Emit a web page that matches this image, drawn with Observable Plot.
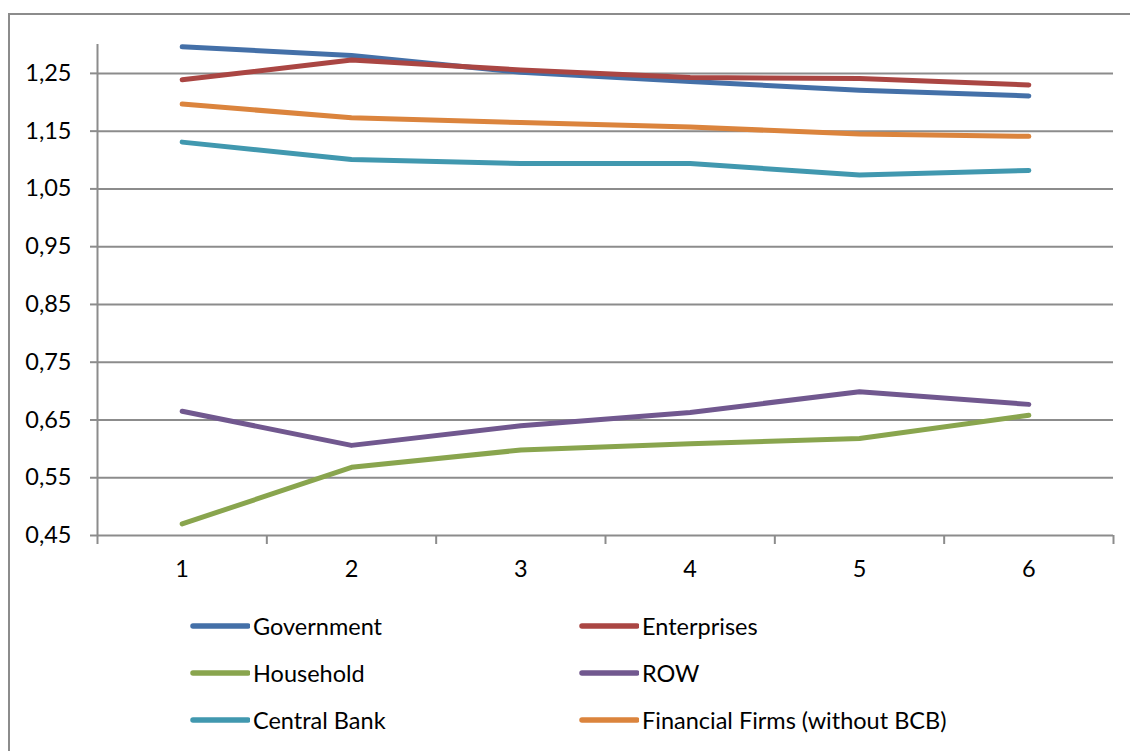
<!DOCTYPE html>
<html>
<head>
<meta charset="utf-8">
<script src="https://cdn.jsdelivr.net/npm/d3@7"></script>
<script src="https://cdn.jsdelivr.net/npm/@observablehq/plot@0.6"></script>
<style>
  html, body { margin: 0; padding: 0; background: #fff; }
  #frame { position: relative; width: 1130px; height: 751px; overflow: hidden; font-family: Lato, "Open Sans", sans-serif; }
  #border { position: absolute; left: 8px; top: 13px; width: 1300px; height: 900px; border: 2px solid #8c8c8c; box-sizing: border-box; }
  #chart { position: absolute; left: 0; top: 0; }
  .legend-item { position: absolute; display: flex; align-items: center; font-size: 23.5px; color: #000; white-space: nowrap; }
  .legend-item svg { margin-right: 3px; }
</style>
</head>
<body>
<div id="frame">
  <div id="border"></div>
  <div id="chart"></div>
</div>
<script>
// Periods on the horizontal axis
const periods = [1, 2, 3, 4, 5, 6];

// Series names, in drawing order
const seriesNames = ["Government", "Enterprises", "Household", "ROW", "Central Bank", "Financial Firms (without BCB)"];
const seriesColors = ["#4470a8", "#aa4643", "#89a54e", "#71588f", "#4198af", "#db843d"];

// Values per series
const government     = [1.296, 1.281, 1.252, 1.236, 1.221, 1.211];
const enterprises    = [1.239, 1.273, 1.256, 1.243, 1.241, 1.230];
const household      = [0.470, 0.568, 0.598, 0.609, 0.618, 0.658];
const row            = [0.665, 0.606, 0.640, 0.663, 0.699, 0.677];
const centralBank    = [1.131, 1.101, 1.094, 1.094, 1.074, 1.082];
const financialFirms = [1.197, 1.173, 1.165, 1.157, 1.145, 1.141];

// Y tick values
const yTicks = [0.45, 0.55, 0.65, 0.75, 0.85, 0.95, 1.05, 1.15, 1.25];

const seriesValues = [government, enterprises, household, row, centralBank, financialFirms];
const rows = seriesNames.flatMap((name, i) =>
  periods.map((p, j) => ({series: name, period: p, value: seriesValues[i][j]}))
);

// Category boundaries, where the x-axis tick marks sit
const bounds = d3.range(periods.length + 1).map(i => periods[0] - 0.5 + i);
const grid = "#8c8c8c";

const chart = Plot.plot({
  width: 1130,
  height: 600,
  marginTop: 44,
  marginBottom: 65,
  marginLeft: 97,
  marginRight: 17,
  style: {fontFamily: "Lato, 'Open Sans', sans-serif", fontSize: "23.5px", color: "#000", background: "transparent"},
  x: {type: "linear", domain: [bounds[0], bounds[bounds.length - 1]]},
  y: {domain: [0.45, 1.30]},
  color: {domain: seriesNames, range: seriesColors},
  marks: [
    Plot.ruleY(yTicks, {stroke: grid, strokeWidth: 2}),
    Plot.ruleX([bounds[0]], {stroke: grid, strokeWidth: 2}),
    Plot.axisY({ticks: yTicks, tickSize: 7, tickPadding: 19, stroke: grid, strokeWidth: 2, fill: "#000",
      tickFormat: d => d.toFixed(2).replace(".", ","), label: null}),
    Plot.axisX({ticks: bounds, tickSize: 9, stroke: grid, strokeWidth: 2, tickFormat: () => "", label: null}),
    Plot.axisX({ticks: periods, tickSize: 0, tickPadding: 25, fill: "#000", tickFormat: d => String(d), label: null}),
    Plot.line(rows, {x: "period", y: "value", z: "series", stroke: "series",
      strokeWidth: 5, strokeLinecap: "round", strokeLinejoin: "round"})
  ]
});
document.getElementById("chart").appendChild(chart);

// Legend: two columns, three rows
const frame = document.getElementById("frame");
const colX = [190, 579];
const rowY = [626, 673, 720];
seriesNames.forEach((name, i) => {
  const item = document.createElement("div");
  item.className = "legend-item";
  item.style.left = colX[i % 2] + "px";
  item.style.top = (rowY[Math.floor(i / 2)] - 16) + "px";
  item.style.height = "32px";
  item.innerHTML = `<svg width="60" height="10"><line x1="3" y1="5" x2="58" y2="5" stroke="${seriesColors[i]}" stroke-width="5.5" stroke-linecap="round"/></svg><span>${name}</span>`;
  frame.appendChild(item);
});
</script>
</body>
</html>
